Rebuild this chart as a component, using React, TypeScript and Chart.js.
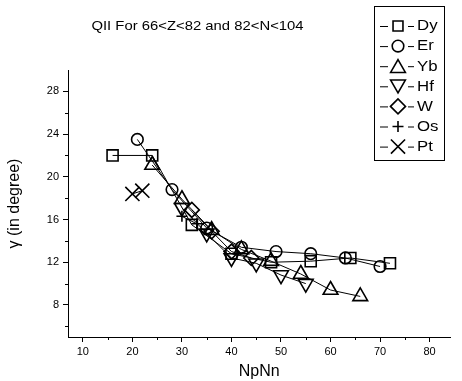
import React, { useEffect, useRef } from 'react';
import { Chart, registerables } from 'chart.js';

Chart.register(...registerables);

// ---- data ----
const dyX = [16, 24, 32, 40, 48, 56, 64, 72];
const dyY = [22.0, 22.0, 15.5, 12.8, 12.0, 12.1, 12.4, 11.9];
const erX = [21, 28, 35, 42, 49, 56, 63, 70];
const erY = [23.5, 18.8, 15.2, 13.4, 13.0, 12.8, 12.4, 11.6];
const ybX = [24, 30, 36, 42, 48, 54, 60, 66];
const ybY = [21.1, 17.9, 15.0, 13.2, 12.1, 10.9, 9.4, 8.8];
const hfX = [30, 35, 40, 45, 50, 55];
const hfY = [17.1, 14.7, 12.4, 11.9, 10.8, 10.0];
const wX = [32, 36, 40, 44];
const wY = [16.9, 14.9, 13.0, 12.4];
const osX = [30, 33];
const osY = [16.3, 15.6];
const ptX = [20, 22];
const ptY = [18.4, 18.7];

const seriesLabels = ['Dy', 'Er', 'Yb', 'Hf', 'W', 'Os', 'Pt'];
const seriesX = [dyX, erX, ybX, hfX, wX, osX, ptX];
const seriesY = [dyY, erY, ybY, hfY, wY, osY, ptY];

const xMajorTicks = [10, 20, 30, 40, 50, 60, 70, 80];
const xMinorTicks = [15, 25, 35, 45, 55, 65, 75];
const yMajorTicks = [8, 12, 16, 20, 24, 28];
const yMinorTicks = [6, 10, 14, 18, 22, 26];

const chartTitle = 'QII For 66<Z<82 and 82<N<104';
const xTitle = 'NpNn';
const yTitle = 'γ (in degree)';

// ---- styles ----
const pointStyles = ['rect', 'circle', 'triangle', 'triangle', 'rectRot', 'cross', 'crossRot'];
const pointRotations = [0, 0, 0, 180, 0, 0, 0];
const pointRadii = [7.8, 5.8, 8.5, 8.5, 7.5, 5.5, 10];
const FONT = '"Liberation Sans", Arial, Helvetica, sans-serif';

function drawSymbol(ctx: CanvasRenderingContext2D, style: string, rot: number, r: number, x: number, y: number) {
  ctx.beginPath();
  switch (style) {
    case 'rect': {
      const s = Math.SQRT1_2 * r;
      ctx.rect(x - s, y - s, 2 * s, 2 * s);
      break;
    }
    case 'circle':
      ctx.arc(x, y, r, 0, Math.PI * 2);
      break;
    case 'triangle': {
      let a = (rot * Math.PI) / 180;
      ctx.moveTo(x + Math.sin(a) * r, y - Math.cos(a) * r);
      a += (2 * Math.PI) / 3;
      ctx.lineTo(x + Math.sin(a) * r, y - Math.cos(a) * r);
      a += (2 * Math.PI) / 3;
      ctx.lineTo(x + Math.sin(a) * r, y - Math.cos(a) * r);
      ctx.closePath();
      break;
    }
    case 'rectRot':
      ctx.moveTo(x - r, y);
      ctx.lineTo(x, y - r);
      ctx.lineTo(x + r, y);
      ctx.lineTo(x, y + r);
      ctx.closePath();
      break;
    case 'cross':
      ctx.moveTo(x, y - r);
      ctx.lineTo(x, y + r);
      ctx.moveTo(x - r, y);
      ctx.lineTo(x + r, y);
      break;
    case 'crossRot': {
      const d = r * Math.SQRT1_2;
      ctx.moveTo(x - d, y - d);
      ctx.lineTo(x + d, y + d);
      ctx.moveTo(x - d, y + d);
      ctx.lineTo(x + d, y - d);
      break;
    }
  }
  ctx.stroke();
}

const decorPlugin = {
  id: 'decor',
  afterDraw(chart: any) {
    const ctx: CanvasRenderingContext2D = chart.ctx;
    const xs = chart.scales.x;
    const ys = chart.scales.y;
    const area = chart.chartArea;
    ctx.save();
    ctx.strokeStyle = '#000';
    ctx.fillStyle = '#000';
    ctx.lineWidth = 1;
    // minor ticks
    ctx.beginPath();
    for (const v of xMinorTicks) {
      const px = Math.round(xs.getPixelForValue(v)) + 0.5;
      ctx.moveTo(px, area.bottom);
      ctx.lineTo(px, area.bottom + 3);
    }
    for (const v of yMinorTicks) {
      const py = Math.round(ys.getPixelForValue(v)) + 0.5;
      ctx.moveTo(area.left, py);
      ctx.lineTo(area.left - 3, py);
    }
    ctx.stroke();

    // chart title
    ctx.save();
    ctx.font = `13.5px ${FONT}`;
    ctx.textAlign = 'center';
    ctx.textBaseline = 'middle';
    ctx.translate(197.5, 26);
    ctx.scale(1.1, 1);
    ctx.fillText(chartTitle, 0, 0);
    ctx.restore();

    // legend box
    ctx.lineWidth = 1;
    ctx.strokeRect(374.5, 6.5, 70, 154);
    for (let i = 0; i < seriesLabels.length; i++) {
      const cy = 26 + i * 20.1;
      const cx = 398;
      ctx.lineWidth = 1;
      ctx.beginPath();
      ctx.moveTo(380, cy + 0.5);
      ctx.lineTo(388, cy + 0.5);
      ctx.moveTo(408, cy + 0.5);
      ctx.lineTo(414, cy + 0.5);
      ctx.stroke();
      ctx.lineWidth = 1.6;
      const r = pointRadii[i] * (pointStyles[i] === 'rect' ? 0.9 : 1);
      const yOff = pointStyles[i] === 'triangle' ? (pointRotations[i] ? -2 : 2) : 0;
      drawSymbol(ctx, pointStyles[i], pointRotations[i], r, cx, cy + yOff);
      ctx.save();
      ctx.font = `14px ${FONT}`;
      ctx.textAlign = 'left';
      ctx.textBaseline = 'middle';
      ctx.translate(417, cy + 0.5);
      ctx.scale(1.2, 1);
      ctx.fillText(seriesLabels[i], 0, 0);
      ctx.restore();
    }
    ctx.restore();
  },
};

export default function App() {
  const canvasRef = useRef<HTMLCanvasElement | null>(null);

  useEffect(() => {
    const canvas = canvasRef.current;
    if (!canvas) return;
    const datasets = seriesLabels.map((label, i) => ({
      label,
      data: seriesX[i].map((x, j) => ({ x, y: seriesY[i][j] })),
      showLine: true,
      borderColor: '#000',
      borderWidth: 1,
      backgroundColor: 'transparent',
      fill: false,
      tension: 0,
      pointStyle: pointStyles[i],
      pointRotation: pointRotations[i],
      pointRadius: pointRadii[i],
      pointHoverRadius: pointRadii[i],
      pointBorderWidth: 1.6,
      pointBorderColor: '#000',
      pointBackgroundColor: 'transparent',
    }));

    const chart = new Chart(canvas, {
      type: 'scatter',
      data: { datasets },
      options: {
        responsive: false,
        animation: false,
        events: [],
        layout: { padding: { left: 0, right: 2, top: 70, bottom: 0 } },
        plugins: {
          legend: { display: false },
          title: { display: false },
          tooltip: { enabled: false },
        },
        scales: {
          x: {
            type: 'linear',
            min: 7,
            max: 84.2,
            afterFit: (s: any) => {
              s.height = 44;
            },
            afterBuildTicks: (s: any) => {
              s.ticks = xMajorTicks.map((v) => ({ value: v }));
            },
            grid: { drawOnChartArea: false, color: '#000', tickLength: 5, lineWidth: 1 },
            border: { display: true, color: '#000', width: 1 },
            ticks: {
              color: '#000',
              font: { family: FONT, size: 11 },
              padding: 3,
              maxRotation: 0,
              autoSkip: false,
            },
            title: {
              display: true,
              text: xTitle,
              color: '#000',
              font: { family: FONT, size: 16 },
              padding: { top: 0, bottom: 0 },
            },
          },
          y: {
            type: 'linear',
            min: 5,
            max: 30,
            afterFit: (s: any) => {
              s.width = 68;
            },
            afterBuildTicks: (s: any) => {
              s.ticks = yMajorTicks.map((v) => ({ value: v }));
            },
            grid: { drawOnChartArea: false, color: '#000', tickLength: 5, lineWidth: 1 },
            border: { display: true, color: '#000', width: 1 },
            ticks: {
              color: '#000',
              font: { family: FONT, size: 11 },
              padding: 4,
              autoSkip: false,
            },
            title: {
              display: true,
              text: yTitle,
              color: '#000',
              font: { family: FONT, size: 16 },
              padding: { top: 5, bottom: 0 },
            },
          },
        },
      } as any,
      plugins: [decorPlugin],
    });
    return () => {
      chart.destroy();
    };
  }, []);

  return (
    <div style={{ position: 'fixed', left: 0, top: 0, width: 462, height: 381, background: '#fff' }}>
      <canvas ref={canvasRef} width={462} height={381} style={{ display: 'block', width: 462, height: 381 }} />
    </div>
  );
}
